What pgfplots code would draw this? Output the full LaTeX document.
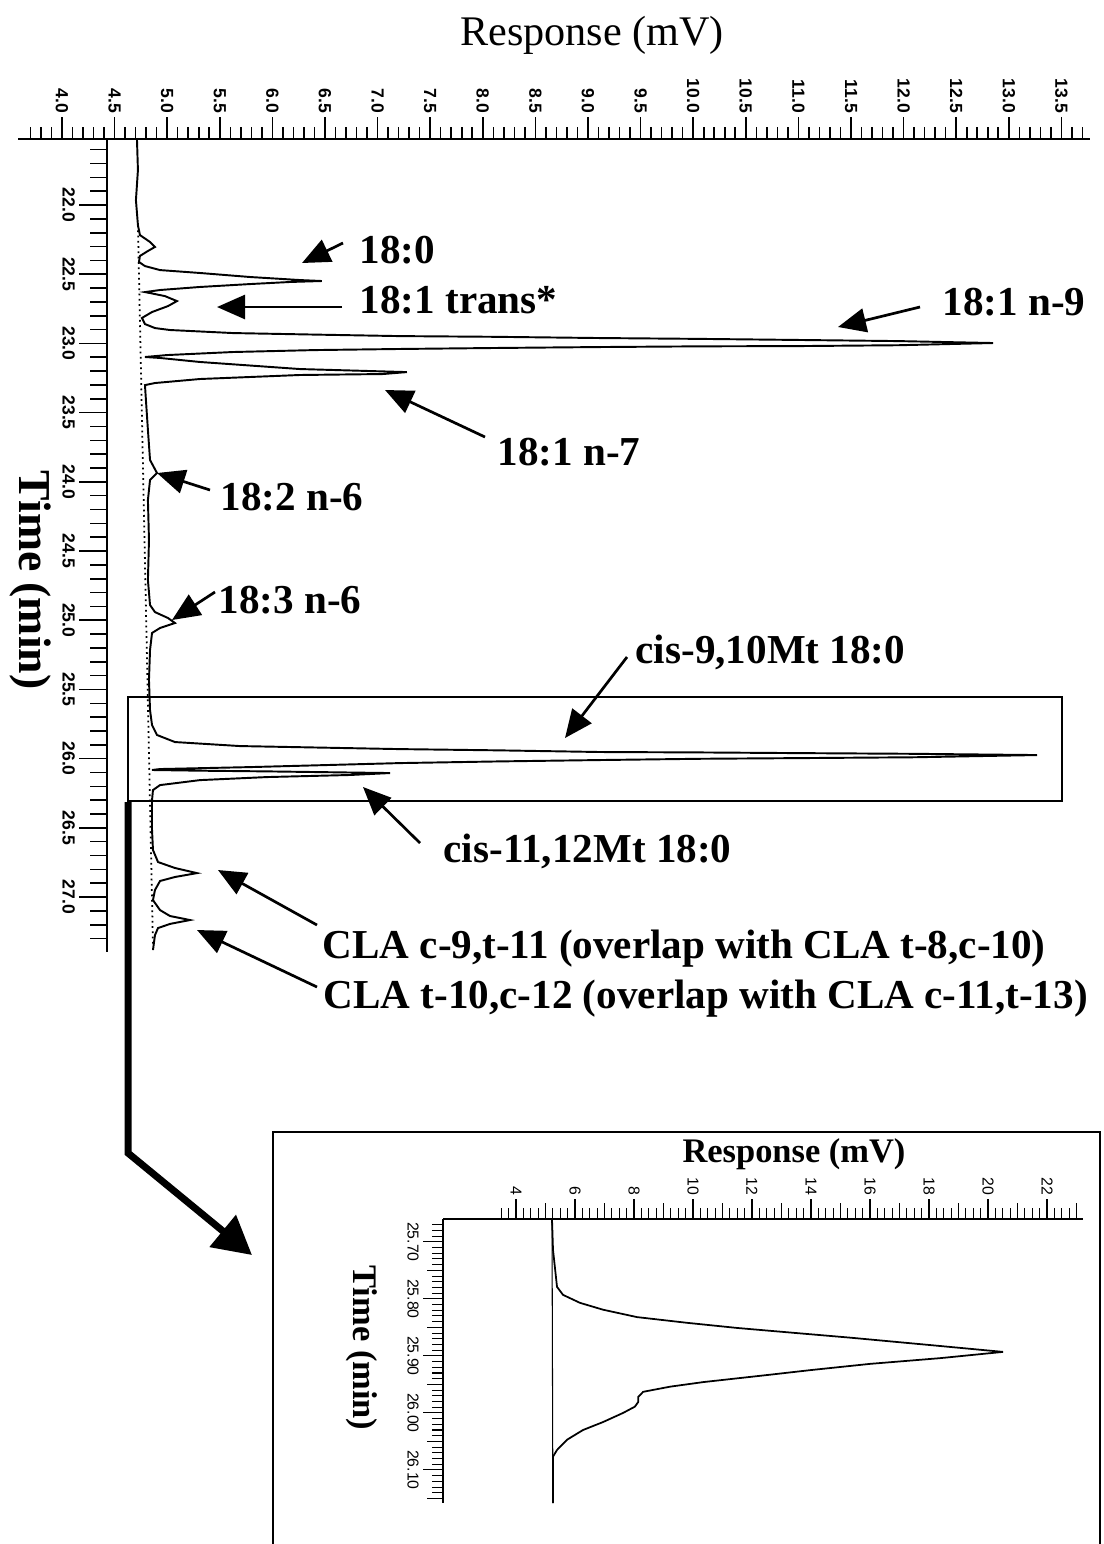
\documentclass[border=0pt]{standalone}
\usepackage{pgfplots}
\pgfplotsset{compat=1.18}
\usepackage{fontspec}
\setmainfont{Liberation Serif}
\newfontfamily\tickfont{Liberation Sans}
\usetikzlibrary{arrows.meta}
\newcommand\lab{\fontsize{11.7}{14}\selectfont\bfseries}
\begin{document}
\begin{tikzpicture}
\path[use as bounding box] (0,0) rectangle (110.4mm,-154.4mm);
% ---------------- main chromatogram ----------------
\begin{axis}[
  at={(1.8mm,-13.9mm)}, anchor=north west,
  scale only axis, width=107.2mm, height=81.3mm,
  xmin=3.582, xmax=13.772, ymin=21.523, ymax=27.397, y dir=reverse,
  axis x line*=top, axis y line=none,
  axis line style={line width=0.7pt},
  xtick={4.0,4.5,...,13.5}, minor xtick={3.7,3.8,...,13.7},
  tick align=outside, major tick length=2.2mm, minor tick length=1.2mm,
  tick style={black, line width=0.45pt},
  /pgf/number format/fixed, /pgf/number format/fixed zerofill,
  /pgf/number format/precision=1, /pgf/number format/assume math mode=true,
  xticklabel style={rotate=-90, anchor=east, inner sep=1pt,
    font=\tickfont\bfseries\fontsize{5}{6}\selectfont},
  clip=false,
]
\addplot[black, line width=0.55pt] coordinates {
(4.713,21.530) (4.722,21.747) (4.703,21.964) (4.722,22.145) (4.741,22.217)
(4.837,22.267) (4.884,22.303) (4.817,22.332) (4.741,22.368) (4.732,22.412)
(4.789,22.441) (4.932,22.470) (5.312,22.491) (5.787,22.520) (6.262,22.542)
(6.471,22.549) (6.167,22.556) (5.787,22.571) (5.312,22.592) (4.932,22.614)
(4.789,22.629)
(4.837,22.636) (4.979,22.658) (5.093,22.694) (5.008,22.730) (4.856,22.773) (4.760,22.816)
(4.789,22.860) (4.884,22.889) (5.027,22.903) (5.625,22.925) (6.40,22.936) (7.213,22.947)
(8.10,22.952) (9.114,22.961) (10.05,22.967) (11.015,22.975) (11.95,22.983) (12.850,22.997)
(11.95,23.013) (11.015,23.019) (10.05,23.021) (9.114,23.026) (8.10,23.033)
(7.213,23.040) (6.40,23.048) (5.625,23.062) (4.998,23.084) (4.789,23.098)
(4.932,23.105) (5.312,23.134) (6.262,23.185) (7.279,23.207) (7.051,23.221)
(6.262,23.228) (5.312,23.257) (4.884,23.286) (4.789,23.301)
(4.798,23.409) (4.817,23.626) (4.837,23.842) (4.903,23.936) (4.837,23.987)
(4.817,24.131) (4.827,24.420) (4.817,24.710) (4.837,24.890)
(4.884,24.941) (5.008,24.984) (5.074,25.020) (4.932,25.056) (4.856,25.092)
(4.837,25.215) (4.827,25.432) (4.837,25.649) (4.856,25.757) (4.903,25.829)
(5.074,25.880) (5.692,25.909) (7.213,25.931) (8.15,25.940) (9.114,25.952) (10.05,25.955) (11.015,25.960)
(12.10,25.965) (13.268,25.974) (12.10,25.990) (11.015,25.996) (10.05,26.001) (9.114,26.010)
(8.15,26.020) (7.213,26.032) (5.787,26.061)
(4.932,26.075) (4.856,26.082)
(5.312,26.087) (5.949,26.092) (7.118,26.104) (6.738,26.118) (5.949,26.133)
(5.312,26.155) (4.932,26.191) (4.865,26.227) (4.856,26.299)
(4.856,26.516) (4.865,26.660) (4.913,26.747) (5.074,26.790) (5.283,26.827)
(5.074,26.855) (4.932,26.884) (4.884,26.949) (4.865,27.022) (4.932,27.094)
(5.027,27.137) (5.217,27.166) (5.027,27.194) (4.913,27.224) (4.884,27.275)
(4.865,27.383)
};
\addplot[black, densely dotted, line width=0.5pt] coordinates {(4.722,22.145) (4.865,27.347)};
\end{axis}
% ---------------- time ruler ----------------
\begin{axis}[
  at={(10.7mm,-13.9mm)}, anchor=north west,
  scale only axis, width=5mm, height=81.3mm,
  xmin=0, xmax=1, ymin=21.523, ymax=27.397, y dir=reverse,
  axis y line*=left, axis x line=none,
  axis line style={line width=0.7pt},
  ytick={22,22.5,...,27}, minor ytick={21.6,21.7,...,27.3},
  tick align=outside, major tick length=2.8mm, minor tick length=1.7mm,
  tick style={black, line width=0.45pt},
  /pgf/number format/fixed, /pgf/number format/fixed zerofill,
  /pgf/number format/precision=1, /pgf/number format/assume math mode=true,
  yticklabel style={rotate=-90, anchor=north, inner sep=1pt,
    font=\tickfont\bfseries\fontsize{5}{6}\selectfont},
]
\addplot[draw=none] coordinates {(0.5,22)};
\end{axis}
% ---------------- inset ----------------
\begin{axis}[
  at={(44.3mm,-121.9mm)}, anchor=north west,
  scale only axis, width=64mm, height=28.4mm,
  xmin=1.525, xmax=23.22, ymin=25.660, ymax=26.158, y dir=reverse,
  axis x line*=top, axis y line*=left,
  axis line style={line width=0.5pt},
  xtick={4,6,...,22}, minor xtick={3.5,3.75,...,23},
  extra x ticks={5,7,...,23}, extra x tick labels={},
  extra x tick style={major tick length=1.6mm},
  ytick={25.7,25.8,...,26.1}, minor ytick={25.67,25.68,...,26.15},
  extra y ticks={25.75,25.85,25.95,26.05,26.15}, extra y tick labels={},
  extra y tick style={major tick length=1.6mm},
  tick align=outside, major tick length=2.0mm, minor tick length=1.1mm,
  tick style={black, line width=0.3pt},
  /pgf/number format/assume math mode=true,
  xticklabel style={rotate=-90, anchor=east, inner sep=0.8pt,
    font=\tickfont\fontsize{4.5}{5}\selectfont,
    /pgf/number format/fixed, /pgf/number format/precision=0},
  yticklabel style={rotate=-90, anchor=north, inner sep=1pt,
    font=\tickfont\fontsize{4.5}{5}\selectfont,
    /pgf/number format/fixed, /pgf/number format/fixed zerofill,
    /pgf/number format/precision=2},
  clip=false,
]
\addplot[black, line width=0.3pt] coordinates {(5.22,25.660) (5.25,26.158)};
\addplot[black, line width=0.5pt] coordinates {
(5.220,25.660) (5.254,25.714) (5.390,25.779) (5.593,25.793) (6.169,25.807)
(6.949,25.819) (8.102,25.832) (9.797,25.842) (11.492,25.851) (12.610,25.856)
(15.322,25.868) (18.034,25.881) (20.508,25.893) (18.37,25.904) (16.00,25.914)
(13.97,25.925) (12.61,25.933) (10.34,25.946) (9.22,25.954) (8.31,25.963)
(8.14,25.972) (8.14,25.981) (8.03,25.989) (7.63,26.000) (6.95,26.016)
(6.27,26.030) (5.73,26.047) (5.39,26.065) (5.25,26.077) (5.25,26.095) (5.25,26.158)
};
\end{axis}
% ---------------- annotations (1 unit = 1 px of reference) ----------------
\begin{scope}[x=0.1mm, y=-0.1mm]
\node[anchor=base, font=\fontsize{12}{14}\selectfont] at (592,45) {Response (mV)};
\node[rotate=-90, font=\fontsize{13}{15}\selectfont\bfseries] at (30,580) {Time (min)};
\begin{scope}[line width=0.27mm, -{Triangle[length=2.8mm,width=2.4mm]}]
\draw (343,243) -- (302,263);
\draw (342,307) -- (217,307);
\draw (920,307) -- (838,327);
\draw (485,437) -- (385,390);
\draw (210,490) -- (157,473);
\draw (215,592) -- (172,620);
\draw (627,657) -- (565,738);
\draw (420,843) -- (363,787);
\draw (317,925) -- (218,870);
\draw (317,987) -- (197,930);
\end{scope}
\node[anchor=base west, font=\lab, inner sep=0pt] at (359,263) {18:0};
\node[anchor=base west, font=\lab, inner sep=0pt] at (359,313) {18:1 trans*};
\node[anchor=base west, font=\lab, inner sep=0pt] at (942,315) {18:1 n-9};
\node[anchor=base west, font=\lab, inner sep=0pt] at (497,465) {18:1 n-7};
\node[anchor=base west, font=\lab, inner sep=0pt] at (220,510) {18:2 n-6};
\node[anchor=base west, font=\lab, inner sep=0pt] at (218,613) {18:3 n-6};
\node[anchor=base west, font=\lab, inner sep=0pt] at (635,663) {cis-9,10Mt 18:0};
\node[anchor=base west, font=\lab, inner sep=0pt] at (443,862) {cis-11,12Mt 18:0};
\node[anchor=base west, font=\lab, inner sep=0pt] at (322,958) {CLA c-9,t-11 (overlap with CLA t-8,c-10)};
\node[anchor=base west, font=\lab, inner sep=0pt] at (323,1008) {CLA t-10,c-12 (overlap with CLA c-11,t-13)};
\draw[line width=0.25mm] (128,697) rectangle (1062,801);
\draw[line width=0.7mm, line join=miter, -{Triangle[length=3.8mm,width=4mm]}] (128,802) -- (128,1153) -- (252,1255);
\draw[line width=0.25mm] (273,1600) -- (273,1132) -- (1100,1132) -- (1100,1600);
\node[anchor=base, font=\fontsize{9.8}{12}\selectfont\bfseries] at (794,1162) {Response (mV)};
\node[rotate=-90, font=\fontsize{9.8}{12}\selectfont\bfseries] at (362,1348) {Time (min)};
\end{scope}
\end{tikzpicture}
\end{document}
